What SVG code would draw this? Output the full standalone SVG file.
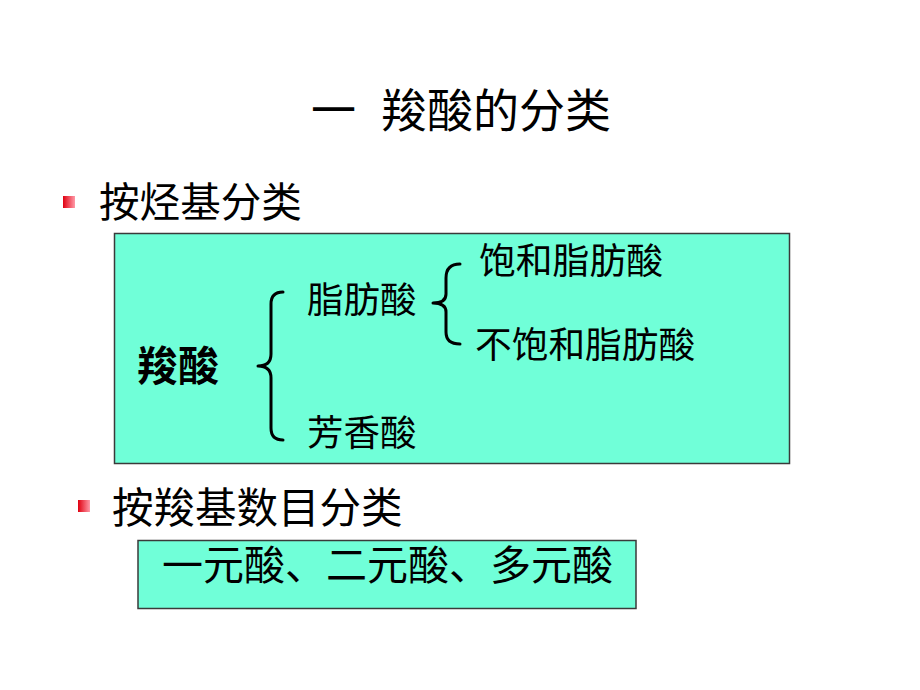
<svg xmlns="http://www.w3.org/2000/svg" width="920" height="690" viewBox="0 0 920 690">
<defs>
<linearGradient id="bul" x1="0" y1="0" x2="1" y2="0">
<stop offset="0" stop-color="#e00010"/>
<stop offset="1" stop-color="#ff9aa8"/>
</linearGradient>
<style>
.t{font-family:"Noto Sans CJK SC","Liberation Sans",sans-serif;fill:#000}
.box{fill:#70FFD8;stroke:#3a3a3a;stroke-width:1.5}
.br{fill:none;stroke:#000;stroke-width:3;stroke-linecap:round;stroke-linejoin:round}
</style>
</defs>
<rect width="920" height="690" fill="#fff"/>
<g id="title">
<text class="t" x="311" y="127" font-size="45">一</text>
<text class="t" x="381" y="127" font-size="46">羧酸的分类</text>
</g>
<g id="head1">
<rect x="63" y="196" width="12" height="12" fill="url(#bul)"/>
<text class="t" x="99" y="217" font-size="40.6">按烃基分类</text>
</g>
<g id="box1">
<rect class="box" x="114.5" y="233.5" width="675" height="230"/>
</g>
<g id="n-root"><text class="t" x="137" y="381" font-size="41" font-weight="bold">羧酸</text></g>
<g id="n-fat"><text class="t" x="307" y="313" font-size="36.5">脂肪酸</text></g>
<g id="n-aro"><text class="t" x="307" y="446" font-size="36.5">芳香酸</text></g>
<g id="n-sat"><text class="t" x="479" y="274" font-size="36.8">饱和脂肪酸</text></g>
<g id="n-unsat"><text class="t" x="475" y="358" font-size="36.7">不饱和脂肪酸</text></g>
<g id="connectors">
<path class="br" d="M283,292 Q271,292 271,304 L271,354 Q271,366 258,366 Q271,366 271,378 L271,428 Q271,440 283,440"/>
<path class="br" d="M460,264 Q446,264 446,278 L446,294 Q446,303 433,303 Q446,303 446,312 L446,332 Q446,344 460,344"/>
</g>
<g id="head2">
<rect x="78" y="500" width="12" height="12" fill="url(#bul)"/>
<text class="t" x="112" y="523" font-size="41.5">按羧基数目分类</text>
</g>
<g id="box2">
<rect class="box" x="138" y="540.5" width="498" height="68"/>
<text class="t" x="162" y="580" font-size="41">一元酸、二元酸、多元酸</text>
</g>
</svg>
